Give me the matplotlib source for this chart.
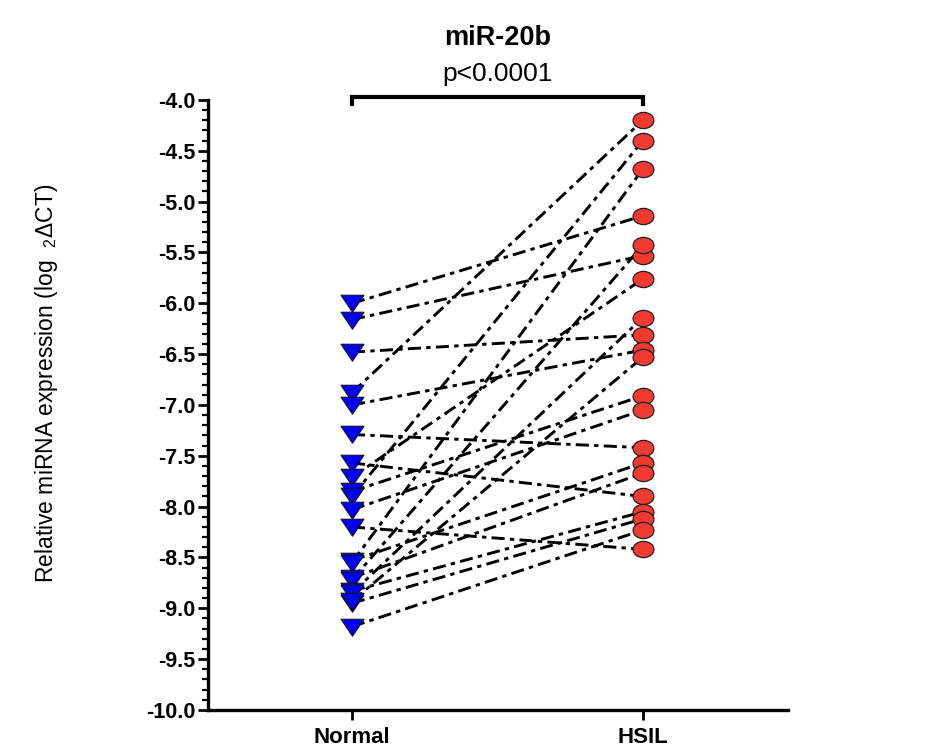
import matplotlib
matplotlib.use("Agg")
import matplotlib.pyplot as plt
from matplotlib.ticker import MultipleLocator, FormatStrFormatter
from matplotlib.path import Path
from matplotlib.transforms import Affine2D

categories = ["Normal", "HSIL"]
normal_vals = [-6.00, -6.16, -6.48, -6.88, -7.00, -7.29, -7.57, -7.71, -7.85, -7.90,
               -8.03, -8.20, -8.53, -8.55, -8.70, -8.72, -8.83, -8.85, -8.95, -8.93, -9.18]
hsil_vals = [-5.14, -5.53, -6.31, -4.20, -6.46, -7.42, -7.90, -5.76, -6.91, -4.40,
             -7.05, -8.42, -7.57, -4.68, -7.67, -5.43, -8.05, -6.14, -8.12, -6.53, -8.23]
y_ticks = [-10.0, -9.5, -9.0, -8.5, -8.0, -7.5, -7.0, -6.5, -6.0, -5.5, -5.0, -4.5, -4.0]
title_text = "miR-20b"
p_text = "p<0.0001"
ylabel_text = r"Relative miRNA expression (log  $_2$$\Delta$CT)"

plt.rcParams['font.family'] = ['Liberation Sans', 'DejaVu Sans']
plt.rcParams['mathtext.fontset'] = 'custom'
plt.rcParams['mathtext.rm'] = 'Liberation Sans'
plt.rcParams['mathtext.it'] = 'Liberation Sans'

# slightly wide marker shapes (the reference is stretched horizontally)
ellipse_marker = Path.unit_circle().transformed(Affine2D().scale(1.0, 0.78))
tri_marker = Path([(-1.0, 0.72), (1.0, 0.72), (0.0, -0.76), (-1.0, 0.72)],
                  [Path.MOVETO, Path.LINETO, Path.LINETO, Path.CLOSEPOLY])

fig = plt.figure(figsize=(9.39, 7.55), dpi=100)
ax = fig.add_axes([0.2215, 0.0596, 0.618, 0.808])

xs = [0, 1]
for n, h in zip(normal_vals, hsil_vals):
    ax.plot(xs, [n, h], color='black', lw=2.1, linestyle=(0, (4.5, 1.8, 1.5, 1.8)), zorder=2)

ax.plot([0] * len(normal_vals), normal_vals, linestyle='none', marker=tri_marker, markersize=16.5,
        markerfacecolor='#0000F0', markeredgecolor='#101030', markeredgewidth=0.8, zorder=3)
ax.plot([1] * len(hsil_vals), hsil_vals, linestyle='none', marker=ellipse_marker, markersize=15,
        markerfacecolor='#F23A30', markeredgecolor='#202020', markeredgewidth=0.9, zorder=3)

ax.set_xlim(-0.495, 1.5)
ax.set_ylim(-10.0, -4.0)
ax.set_xticks(xs)
ax.set_xticklabels(categories, fontsize=16, fontweight='bold')
ax.set_yticks(y_ticks)
ax.yaxis.set_major_formatter(FormatStrFormatter('%.1f'))
ax.yaxis.set_minor_locator(MultipleLocator(0.1))
for lab in ax.get_yticklabels():
    lab.set_fontweight('bold')
    lab.set_fontsize(15.5)

for s in ['top', 'right']:
    ax.spines[s].set_visible(False)
for s in ['left', 'bottom']:
    ax.spines[s].set_linewidth(2.4)
    ax.spines[s].set_color('black')

ax.tick_params(axis='y', which='major', length=7, width=2.0, pad=2)
ax.tick_params(axis='y', which='minor', length=4.5, width=1.6)
ax.tick_params(axis='x', which='major', length=7, width=2.0, pad=5)

ax.set_ylabel(ylabel_text, fontsize=16.5,
              family=['Liberation Sans Narrow', 'Liberation Sans', 'DejaVu Sans'])
ax.yaxis.set_label_coords(-0.255, 0.535)

# significance bracket
ax.plot([0, 0, 1, 1], [-4.04, -3.97, -3.97, -4.04], color='black', lw=3.0,
        clip_on=False, solid_joinstyle='miter', zorder=4)
ax.text(0.5, -3.86, p_text, ha='center', va='bottom', fontsize=19)
ax.text(0.5, -3.52, title_text, ha='center', va='bottom', fontsize=19.5, fontweight='bold')

fig.savefig("out.png", dpi=100, facecolor='white')
